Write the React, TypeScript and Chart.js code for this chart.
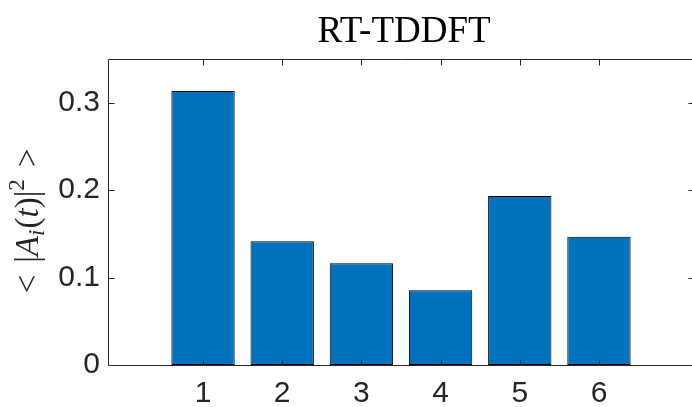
import React, { useEffect, useRef } from "react";
import { Chart, registerables } from "chart.js";

Chart.register(...registerables);

// Mean squared amplitude per state
const states = [1, 2, 3, 4, 5, 6];
const meanAmplitudeSq = [0.3135, 0.1416, 0.1164, 0.0856, 0.1933, 0.1468];
const yTickValues = [0, 0.1, 0.2, 0.3];
const titleText = "RT-TDDFT";

const AXIS_COLOR = "#262626";
const BAR_COLOR = "#0072BD";
const CANVAS_W = 700;
const CANVAS_H = 407;
const TICK_LEN = 6;

type Seg = { t: string; italic?: boolean; scale?: number; dy?: number; gap?: number };

// < |A_i(t)|^2 >
const yLabelSegs: Seg[] = [
  { t: "<" },
  { t: "", gap: 0.36 },
  { t: "|" },
  { t: "A", italic: true },
  { t: "i", italic: true, scale: 0.7, dy: 0.17 },
  { t: "", gap: 0.04 },
  { t: "(" },
  { t: "t", italic: true },
  { t: ")" },
  { t: "|" },
  { t: "2", scale: 0.7, dy: -0.42 },
  { t: "", gap: 0.36 },
  { t: ">" },
];

const matlabAxes = {
  id: "matlabAxes",
  afterDatasetsDraw(chart: any) {
    const { ctx, chartArea: a, scales } = chart;
    const xs = scales.x;
    const ys = scales.y;
    const L = Math.round(a.left) + 0.5;
    const R = Math.round(a.right) + 0.5;
    const T = Math.round(a.top) + 0.5;
    const B = Math.round(a.bottom) + 0.5;
    ctx.save();
    ctx.strokeStyle = AXIS_COLOR;
    ctx.lineWidth = 1;
    ctx.beginPath();
    ctx.moveTo(L, T);
    ctx.lineTo(R, T);
    ctx.lineTo(R, B);
    ctx.lineTo(L, B);
    ctx.closePath();
    for (const c of states) {
      const px = Math.round(xs.getPixelForValue(c)) + 0.5;
      ctx.moveTo(px, T);
      ctx.lineTo(px, T + TICK_LEN);
      ctx.moveTo(px, B);
      ctx.lineTo(px, B - TICK_LEN);
    }
    for (const v of yTickValues) {
      const py = Math.round(ys.getPixelForValue(v)) + 0.5;
      ctx.moveTo(L, py);
      ctx.lineTo(L + TICK_LEN, py);
      ctx.moveTo(R, py);
      ctx.lineTo(R - TICK_LEN, py);
    }
    ctx.stroke();
    ctx.restore();
  },
  afterDraw(chart: any) {
    const { ctx, chartArea: a } = chart;
    ctx.save();
    ctx.fillStyle = "#000000";
    ctx.font = '37px "Liberation Serif"';
    ctx.textAlign = "center";
    ctx.textBaseline = "alphabetic";
    ctx.fillText(titleText, (a.left + a.right) / 2 + 3, 42);

    // rotated math label on the y axis
    const size = 33;
    const fontFor = (s: Seg) =>
      `${s.italic ? "italic " : ""}${Math.round(size * (s.scale ?? 1))}px "Liberation Serif"`;
    let total = 0;
    const widths = yLabelSegs.map((s) => {
      if (s.gap) return s.gap * size;
      ctx.font = fontFor(s);
      return ctx.measureText(s.t).width;
    });
    widths.forEach((w) => (total += w));
    ctx.translate(38, (a.top + a.bottom) / 2 + 9);
    ctx.rotate(-Math.PI / 2);
    ctx.fillStyle = AXIS_COLOR;
    ctx.textAlign = "left";
    let cx = -total / 2;
    yLabelSegs.forEach((s, i) => {
      if (!s.gap) {
        ctx.font = fontFor(s);
        ctx.fillText(s.t, cx, (s.dy ?? 0) * size);
      }
      cx += widths[i];
    });
    ctx.restore();
  },
};

export default function App() {
  const canvasRef = useRef<HTMLCanvasElement | null>(null);

  useEffect(() => {
    const canvas = canvasRef.current;
    if (!canvas) return;
    const chart = new Chart(canvas, {
      type: "bar",
      data: {
        datasets: [
          {
            data: states.map((s, i) => ({ x: s, y: meanAmplitudeSq[i] })),
            backgroundColor: BAR_COLOR,
            borderColor: "#000000",
            borderWidth: 1,
            borderSkipped: false,
            categoryPercentage: 1,
            barPercentage: 0.8,
          },
        ],
      },
      options: {
        animation: false,
        responsive: false,
        devicePixelRatio: 1,
        layout: { padding: { top: 59, right: 6, left: 0, bottom: 0 } },
        plugins: {
          legend: { display: false },
          title: { display: false },
          tooltip: { enabled: false },
        },
        scales: {
          x: {
            type: "linear",
            offset: false,
            min: -0.2,
            max: 7.2,
            grid: { display: false, drawTicks: false, offset: false },
            border: { display: false },
            afterBuildTicks: (scale: any) => {
              scale.ticks = states.map((v) => ({ value: v }));
            },
            afterFit: (scale: any) => {
              scale.height = 42;
            },
            ticks: {
              autoSkip: false,
              maxRotation: 0,
              padding: 11,
              color: AXIS_COLOR,
              font: { family: '"Liberation Sans"', size: 30 },
              callback: (v: any) => String(v),
            },
          },
          y: {
            min: 0,
            max: 0.35,
            grid: { display: false, drawTicks: false },
            border: { display: false },
            afterBuildTicks: (scale: any) => {
              scale.ticks = yTickValues.map((v) => ({ value: v }));
            },
            afterFit: (scale: any) => {
              scale.width = 108;
            },
            ticks: {
              padding: 8,
              color: AXIS_COLOR,
              font: { family: '"Liberation Sans"', size: 30 },
              callback: (v: any) => (v === 0 ? "0" : String(Number(v).toFixed(1))),
            },
          },
        },
      },
      plugins: [matlabAxes],
    });
    return () => chart.destroy();
  }, []);

  return (
    <div style={{ position: "fixed", left: 0, top: 0, width: CANVAS_W, height: CANVAS_H, background: "#fff" }}>
      <canvas ref={canvasRef} width={CANVAS_W} height={CANVAS_H} style={{ display: "block" }} />
    </div>
  );
}
